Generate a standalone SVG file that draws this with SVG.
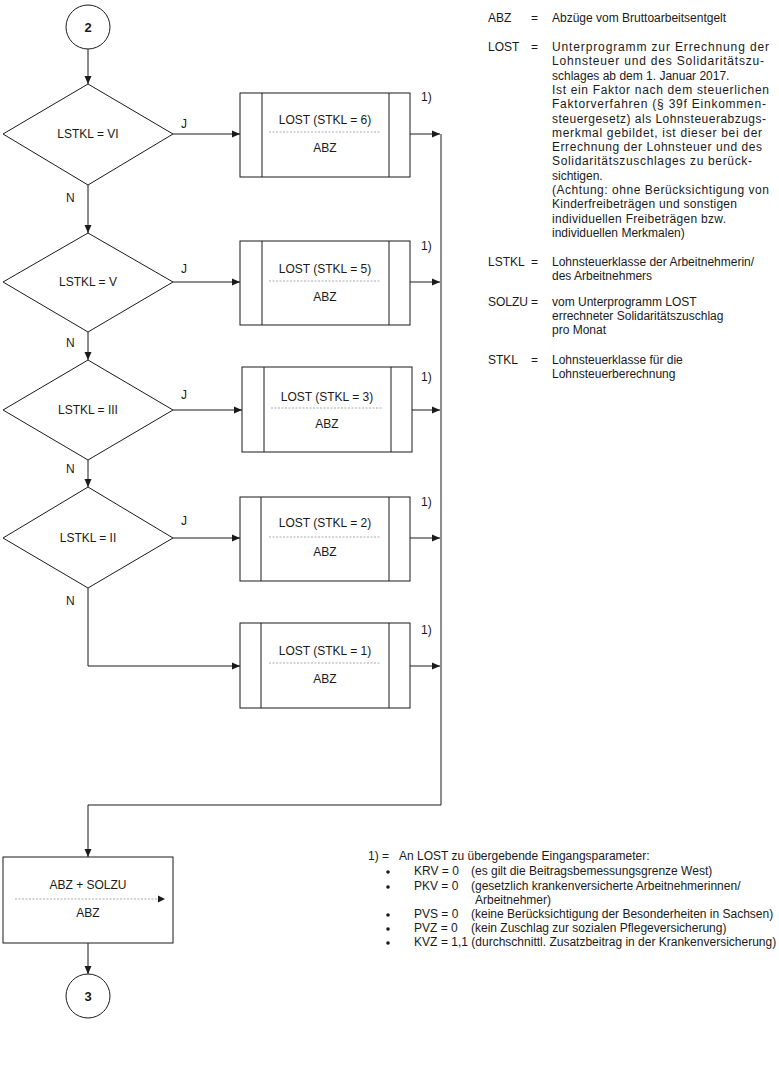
<svg xmlns="http://www.w3.org/2000/svg" width="779" height="1087" viewBox="0 0 779 1087">
<style>
text{font-family:"Liberation Sans",Arial,sans-serif;font-size:12px;fill:#1a1a1a}
.c{text-anchor:middle}
.s{fill:#fff;stroke:#1a1a1a;stroke-width:1}
.l{fill:none;stroke:#1a1a1a;stroke-width:1}
.d{fill:none;stroke:#aaa;stroke-width:1;stroke-dasharray:2,1.5}
.b{font-weight:bold;font-size:13px}
</style>
<defs>
<marker id="a" markerWidth="8" markerHeight="8" refX="8" refY="4" orient="auto" markerUnits="userSpaceOnUse"><path d="M0,0.5 L8,4 L0,7.5 Z" fill="#1a1a1a"/></marker>
</defs>
<rect width="779" height="1087" fill="#fff"/>
<g id="connectors">
<path class="l" d="M88,49 V84" marker-end="url(#a)"/>
<path class="l" d="M88,185 V233" marker-end="url(#a)"/>
<path class="l" d="M88,332 V360" marker-end="url(#a)"/>
<path class="l" d="M88,460 V487" marker-end="url(#a)"/>
<path class="l" d="M88,588 V666 H240" marker-end="url(#a)"/>
<path class="l" d="M173,134 H240" marker-end="url(#a)"/>
<path class="l" d="M173,282 H240" marker-end="url(#a)"/>
<path class="l" d="M173,410 H242" marker-end="url(#a)"/>
<path class="l" d="M173,538 H240" marker-end="url(#a)"/>
<path class="l" d="M410,134 H440" marker-end="url(#a)"/>
<path class="l" d="M410,282 H440" marker-end="url(#a)"/>
<path class="l" d="M412,410 H440" marker-end="url(#a)"/>
<path class="l" d="M410,538 H440" marker-end="url(#a)"/>
<path class="l" d="M410,666 H440" marker-end="url(#a)"/>
<path class="l" d="M441,134 V805 H88 V857" marker-end="url(#a)"/>
<path class="l" d="M88,943 V974" marker-end="url(#a)"/>
<text x="181" y="128">J</text>
<text x="181" y="273">J</text>
<text x="181" y="399">J</text>
<text x="181" y="525">J</text>
<text x="66" y="202">N</text>
<text x="66" y="347">N</text>
<text x="66" y="473">N</text>
<text x="66" y="605">N</text>
<text x="421" y="101">1)</text>
<text x="421" y="250">1)</text>
<text x="421" y="381">1)</text>
<text x="421" y="506">1)</text>
<text x="421" y="634">1)</text>
</g>
<g id="start"><circle class="s" cx="88" cy="27" r="22"/><text class="c b" x="88" y="32">2</text></g>
<g id="d1"><polygon class="s" points="88,84 173,134 88,185 3,134"/><text class="c" x="88" y="138">LSTKL = VI</text></g>
<g id="d2"><polygon class="s" points="88,233 173,282 88,332 3,282"/><text class="c" x="88" y="286">LSTKL = V</text></g>
<g id="d3"><polygon class="s" points="88,360 173,410 88,460 3,410"/><text class="c" x="88" y="414">LSTKL = III</text></g>
<g id="d4"><polygon class="s" points="88,487 173,538 88,588 3,538"/><text class="c" x="88" y="542">LSTKL = II</text></g>
<g id="p1"><rect class="s" x="240" y="93" width="170" height="84"/><path class="l" d="M262,93 V177 M389,93 V177"/><path class="d" d="M269,132 H381"/><text class="c" x="325" y="124">LOST (STKL = 6)</text><text class="c" x="325" y="152">ABZ</text></g>
<g id="p2"><rect class="s" x="240" y="241" width="170" height="84"/><path class="l" d="M262,241 V325 M389,241 V325"/><path class="d" d="M269,281 H381"/><text class="c" x="325" y="273">LOST (STKL = 5)</text><text class="c" x="325" y="301">ABZ</text></g>
<g id="p3"><rect class="s" x="242" y="367" width="170" height="85"/><path class="l" d="M264,367 V452 M391,367 V452"/><path class="d" d="M271,408 H383"/><text class="c" x="327" y="401">LOST (STKL = 3)</text><text class="c" x="327" y="428">ABZ</text></g>
<g id="p4"><rect class="s" x="240" y="497" width="170" height="84"/><path class="l" d="M261,497 V581 M389,497 V581"/><path class="d" d="M269,537 H381"/><text class="c" x="325" y="527">LOST (STKL = 2)</text><text class="c" x="325" y="556">ABZ</text></g>
<g id="p5"><rect class="s" x="240" y="623" width="170" height="85"/><path class="l" d="M261,623 V708 M389,623 V708"/><path class="d" d="M269,663 H381"/><text class="c" x="325" y="655">LOST (STKL = 1)</text><text class="c" x="325" y="683">ABZ</text></g>
<g id="p6"><rect class="s" x="3" y="857" width="170" height="86"/><path class="d" d="M15,899 H158"/><path d="M158,895.5 L165,899 L158,902.5 Z" fill="#1a1a1a"/><text class="c" x="88" y="889">ABZ + SOLZU</text><text class="c" x="88" y="917">ABZ</text></g>
<g id="end"><circle class="s" cx="88" cy="996" r="22"/><text class="c b" x="88" y="1001">3</text></g>
<g id="legend">
<text x="488" y="22">ABZ</text><text x="531" y="22">=</text><text x="552" y="22">Abzüge vom Bruttoarbeitsentgelt</text>
<text x="488" y="51">LOST</text><text x="531" y="51">=</text>
<text x="552" y="51" textLength="217" lengthAdjust="spacing">Unterprogramm zur Errechnung der</text>
<text x="552" y="65.3" textLength="212" lengthAdjust="spacing">Lohnsteuer und des Solidaritätszu-</text>
<text x="552" y="79.6">schlages ab dem 1. Januar 2017.</text>
<text x="552" y="93.9" textLength="217" lengthAdjust="spacing">Ist ein Faktor nach dem steuerlichen</text>
<text x="552" y="108.2" textLength="214" lengthAdjust="spacing">Faktorverfahren (§ 39f Einkommen-</text>
<text x="552" y="122.5" textLength="214" lengthAdjust="spacing">steuergesetz) als Lohnsteuerabzugs-</text>
<text x="552" y="136.8" textLength="210" lengthAdjust="spacing">merkmal gebildet, ist dieser bei der</text>
<text x="552" y="151.1" textLength="210" lengthAdjust="spacing">Errechnung der Lohnsteuer und des</text>
<text x="552" y="165.4" textLength="200" lengthAdjust="spacing">Solidaritätszuschlages zu berück-</text>
<text x="552" y="179.7">sichtigen.</text>
<text x="552" y="194" textLength="217" lengthAdjust="spacing">(Achtung: ohne Berücksichtigung von</text>
<text x="552" y="208.3" textLength="185" lengthAdjust="spacing">Kinderfreibeträgen und sonstigen</text>
<text x="552" y="222.6" textLength="174" lengthAdjust="spacing">individuellen Freibeträgen bzw.</text>
<text x="552" y="236.9">individuellen Merkmalen)</text>
<text x="488" y="266">LSTKL</text><text x="531" y="266">=</text>
<text x="552" y="266">Lohnsteuerklasse der Arbeitnehmerin/</text>
<text x="552" y="280">des Arbeitnehmers</text>
<text x="488" y="306">SOLZU</text><text x="531" y="306">=</text>
<text x="552" y="306">vom Unterprogramm LOST</text>
<text x="552" y="320">errechneter Solidaritätszuschlag</text>
<text x="552" y="334">pro Monat</text>
<text x="488" y="364">STKL</text><text x="531" y="364">=</text>
<text x="552" y="364">Lohnsteuerklasse für die</text>
<text x="552" y="378">Lohnsteuerberechnung</text>
</g>
<g id="footnote">
<text x="368" y="860">1) =</text><text x="399" y="860">An LOST zu übergebende Eingangsparameter:</text>
<g fill="#1a1a1a"><circle cx="388" cy="872" r="1.8"/><circle cx="388" cy="887" r="1.8"/><circle cx="388" cy="915" r="1.8"/><circle cx="388" cy="929" r="1.8"/><circle cx="388" cy="943" r="1.8"/></g>
<text x="414" y="875">KRV = 0</text><text x="471" y="875">(es gilt die Beitragsbemessungsgrenze West)</text>
<text x="414" y="890">PKV = 0</text><text x="471" y="890">(gesetzlich krankenversicherte Arbeitnehmerinnen/</text>
<text x="475" y="904">Arbeitnehmer)</text>
<text x="414" y="918">PVS = 0</text><text x="471" y="918">(keine Berücksichtigung der Besonderheiten in Sachsen)</text>
<text x="414" y="932">PVZ = 0</text><text x="471" y="932">(kein Zuschlag zur sozialen Pflegeversicherung)</text>
<text x="414" y="946">KVZ</text><text x="441" y="946">= 1,1 (durchschnittl. Zusatzbeitrag in der Krankenversicherung)</text>
</g>
</svg>
